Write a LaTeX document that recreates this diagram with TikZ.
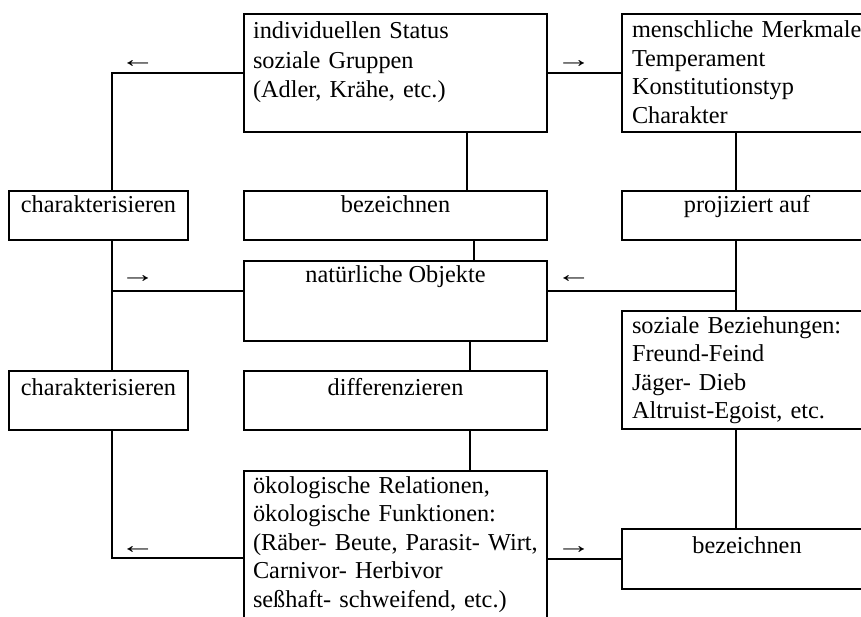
\documentclass[tikz,border=0pt]{standalone}
\usepackage{fontspec}
\setmainfont{Liberation Serif}
\usetikzlibrary{calc}
\newcommand{\wideleft}{\scalebox{1.45}[1]{←}}
\newcommand{\wideright}{\scalebox{1.45}[1]{→}}
\begin{document}
\begin{tikzpicture}[x=1pt,y=-1pt,
  every node/.style={font=\fontsize{24.3}{28.5}\selectfont, inner sep=0pt, outer sep=0pt},
  box/.style={draw, line width=2.4pt, rectangle, anchor=north west},
  conn/.style={line width=2.4pt},
  lefttext/.style={anchor=base west, align=left, text width=300pt},
  midtext/.style={anchor=base},
  arrowmark/.style={anchor=base west}]
\useasboundingbox (0,0) rectangle (861,617);
\clip (0,0) rectangle (861,617);

% boxes
\node[box, minimum width=303pt, minimum height=118pt] (top)   at (244,14)  {};
\node[box, minimum width=250pt, minimum height=118pt] (mer)   at (622,14)  {};
\node[box, minimum width=179pt, minimum height=49pt]  (char1) at (9,191)   {};
\node[box, minimum width=303pt, minimum height=49pt]  (bez1)  at (244,191) {};
\node[box, minimum width=250pt, minimum height=49pt]  (proj)  at (622,191) {};
\node[box, minimum width=303pt, minimum height=80pt]  (nat)   at (244,261) {};
\node[box, minimum width=250pt, minimum height=118pt] (soz)   at (622,311) {};
\node[box, minimum width=179pt, minimum height=59pt]  (char2) at (9,371)   {};
\node[box, minimum width=303pt, minimum height=59pt]  (diff)  at (244,371) {};
\node[box, minimum width=303pt, minimum height=160pt] (eco)   at (244,471) {};
\node[box, minimum width=250pt, minimum height=60pt]  (bez2)  at (622,529) {};

% box texts
\node[lefttext, font=\fontsize{24.3}{29.5}\selectfont] (ttop) at ($(top.north west)+(9,25)$)
  {individuellen Status\\soziale Gruppen\\(Adler, Krähe, etc.)};
\node[lefttext] (tmer) at ($(mer.north west)+(10,24)$)
  {menschliche Merkmale\\Temperament\\Konstitutionstyp\\Charakter};
\node[midtext] (tchar1) at ($(char1.north)+(0,22)$) {charakterisieren};
\node[midtext] (tbez1)  at ($(bez1.north)+(0,22)$)  {bezeichnen};
\node[midtext] (tproj)  at ($(proj.north)+(0,22)$)  {projiziert auf};
\node[midtext] (tnat)   at ($(nat.north)+(0,22)$)   {natürliche Objekte};
\node[lefttext] (tsoz) at ($(soz.north west)+(10,22)$)
  {soziale Beziehungen:\\Freund-Feind\\Jäger- Dieb\\Altruist-Egoist, etc.};
\node[midtext] (tchar2) at ($(char2.north)+(0,24)$) {charakterisieren};
\node[midtext] (tdiff)  at ($(diff.north)+(0,24)$)  {differenzieren};
\node[lefttext] (teco) at ($(eco.north west)+(9,22)$)
  {ökologische Relationen,\\ökologische Funktionen:\\(Räber- Beute, Parasit- Wirt,\\Carnivor- Herbivor\\seßhaft- schweifend, etc.)};
\node[midtext] (tbez2)  at ($(bez2.north)+(0,24)$)  {bezeichnen};

% arrow marks beside the connectors
\node[arrowmark] (a1) at (120,68)  {\wideleft};
\node[arrowmark] (a2) at (556,68)  {\wideright};
\node[arrowmark] (a3) at (120,283) {\wideright};
\node[arrowmark] (a4) at (556,283) {\wideleft};
\node[arrowmark] (a5) at (120,553) {\wideleft};
\node[arrowmark] (a6) at (556,553) {\wideright};

% connector guide points
\coordinate (cL1) at (112,73);
\coordinate (cL2) at (112,291);
\coordinate (cL3) at (112,558);
\coordinate (cR2) at (736,291);
\coordinate (xA) at (467,0);
\coordinate (xB) at (474,0);
\coordinate (xC) at (470,0);
\coordinate (xR) at (736,0);

% connectors
\draw[conn] (top.west) -- (cL1) -- (cL1 |- char1.north);
\draw[conn] (top.east) -- (mer.west);
\draw[conn] (top.south -| xA) -- (bez1.north -| xA);
\draw[conn] (mer.south -| xR) -- (proj.north -| xR);
\draw[conn] (bez1.south -| xB) -- (nat.north -| xB);
\draw[conn] (char1.south -| cL1) -- (char2.north -| cL1);
\draw[conn] (cL2) -- (nat.west |- cL2);
\draw[conn] (proj.south -| xR) -- (soz.north -| xR);
\draw[conn] (cR2) -- (nat.east |- cR2);
\draw[conn] (nat.south -| xC) -- (diff.north -| xC);
\draw[conn] (diff.south -| xC) -- (eco.north -| xC);
\draw[conn] (char2.south -| cL1) -- (cL3) -- (eco.west |- cL3);
\draw[conn] (soz.south -| xR) -- (bez2.north -| xR);
\draw[conn] (eco.east |- bez2.west) -- (bez2.west);
\end{tikzpicture}
\end{document}
